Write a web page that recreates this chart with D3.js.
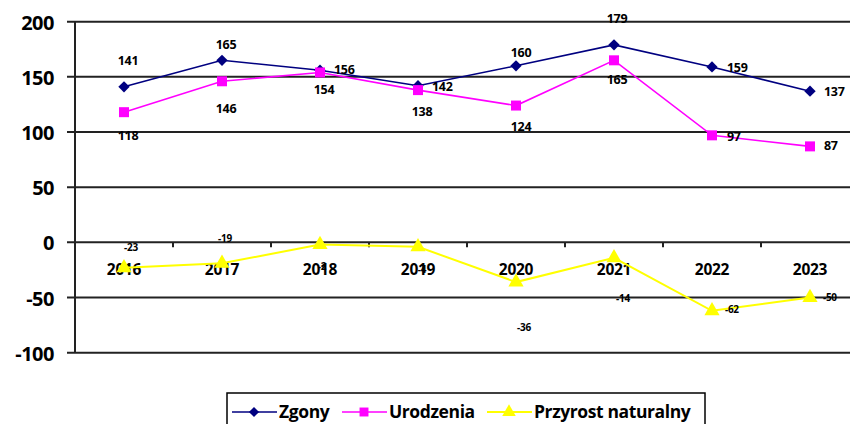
<!DOCTYPE html>
<html>
<head>
<meta charset="utf-8">
<script src="https://cdn.jsdelivr.net/npm/d3@7"></script>
<style>
  body { margin: 0; background: #fff; }
  svg { display: block; font-family: "Open Sans", Lato, sans-serif; font-weight: bold; }
</style>
</head>
<body>
<svg id="chart" width="850" height="424"></svg>
<script>
var years = ['2016', '2017', '2018', '2019', '2020', '2021', '2022', '2023'];
var zgony = [141, 165, 156, 142, 160, 179, 159, 137];
var urodzenia = [118, 146, 154, 138, 124, 165, 97, 87];
var przyrost = [-23, -19, -2, -4, -36, -14, -62, -50];
var yTicks = [-100, -50, 0, 50, 100, 150, 200];

// where each data label sits relative to its point (dx, dy of the text baseline)
var zgonyLabelPos = [[4, -22], [4, -11], [14, 4], [14, 5], [5, -9], [3, -22], [15, 5], [14, 5]];
var urodzeniaLabelPos = [[4, 28], [4, 32], [4, 22], [4, 26], [5, 25], [3, 24], [15, 6], [14, 4]];
var przyrostLabelPos = [[7, -17], [3, -21], [2, 25], [4, 26], [8, 49], [9, 44], [13, 2], [13, 3]];

var svg = d3.select('#chart');

var x = d3.scaleBand().domain(years).range([75, 859]);
var y = d3.scaleLinear().domain([-100, 200]).range([352.7, 21.7]);
var cx = function(d, i) { return x(years[i]) + x.bandwidth() / 2; };

// gridlines
svg.append('g').selectAll('line')
  .data(yTicks)
  .enter().append('line')
  .attr('x1', 67).attr('x2', 860)
  .attr('y1', function(d) { return y(d); })
  .attr('y2', function(d) { return y(d); })
  .attr('stroke', '#222').attr('stroke-width', 2);

// y axis line
svg.append('line')
  .attr('x1', 75).attr('x2', 75)
  .attr('y1', y(200)).attr('y2', y(-100))
  .attr('stroke', '#222').attr('stroke-width', 2);

// y tick labels
svg.append('g').selectAll('text')
  .data(yTicks)
  .enter().append('text')
  .attr('x', 54)
  .attr('y', function(d) { return y(d) + 8; })
  .attr('text-anchor', 'end')
  .attr('font-size', 20)
  .attr('letter-spacing', -0.5)
  .attr('fill', '#000')
  .text(function(d) { return d; });

// category ticks on the zero line
svg.append('g').selectAll('line')
  .data(years.slice(1))
  .enter().append('line')
  .attr('x1', function(d) { return x(d); })
  .attr('x2', function(d) { return x(d); })
  .attr('y1', y(0)).attr('y2', y(0) + 5)
  .attr('stroke', '#222').attr('stroke-width', 2);

// category labels
svg.append('g').selectAll('text')
  .data(years)
  .enter().append('text')
  .attr('x', function(d) { return x(d) + x.bandwidth() / 2; })
  .attr('y', 275)
  .attr('text-anchor', 'middle')
  .attr('font-size', 15.5)
  .attr('letter-spacing', -0.3)
  .attr('fill', '#000')
  .text(function(d) { return d; });

// diamond = square turned 45 degrees
var diamond = {
  draw: function(ctx, size) {
    var r = Math.sqrt(size) / 2 * Math.SQRT2;
    ctx.moveTo(0, -r); ctx.lineTo(r, 0); ctx.lineTo(0, r); ctx.lineTo(-r, 0); ctx.closePath();
  }
};

var series = [
  { name: 'Zgony', values: zgony, color: '#000080', width: 1.6, symbol: diamond, size: 64, labels: zgonyLabelPos, fontSize: 12.5 },
  { name: 'Urodzenia', values: urodzenia, color: '#FF00FF', width: 1.6, symbol: d3.symbolSquare, size: 100, labels: urodzeniaLabelPos, fontSize: 12.5 },
  { name: 'Przyrost naturalny', values: przyrost, color: '#FFFF00', width: 2, symbol: d3.symbolTriangle, size: 100, labels: przyrostLabelPos, fontSize: 10 }
];

var line = d3.line()
  .x(function(d, i) { return cx(d, i); })
  .y(function(d) { return y(d); });

series.forEach(function(s) {
  var g = svg.append('g');

  g.append('path')
    .datum(s.values)
    .attr('d', line)
    .attr('fill', 'none')
    .attr('stroke', s.color)
    .attr('stroke-width', s.width);

  g.selectAll('path.mark')
    .data(s.values)
    .enter().append('path')
    .attr('class', 'mark')
    .attr('d', d3.symbol().type(s.symbol).size(s.size))
    .attr('transform', function(d, i) { return 'translate(' + cx(d, i) + ',' + y(d) + ')'; })
    .attr('fill', s.color);

  g.selectAll('text')
    .data(s.values)
    .enter().append('text')
    .attr('x', function(d, i) { return cx(d, i) + s.labels[i][0]; })
    .attr('y', function(d, i) { return y(d) + s.labels[i][1]; })
    .attr('text-anchor', function(d, i) { return s.labels[i][0] > 10 ? 'start' : 'middle'; })
    .attr('font-size', s.fontSize)
    .attr('letter-spacing', -0.3)
    .attr('fill', '#000')
    .text(function(d) { return d; });
});

// legend
var legend = svg.append('g');
legend.append('rect')
  .attr('x', 227).attr('y', 393)
  .attr('width', 478).attr('height', 40)
  .attr('fill', '#fff').attr('stroke', '#000').attr('stroke-width', 1.5);

var legendX = [232, 342, 487];
series.forEach(function(s, i) {
  var lx = legendX[i];
  legend.append('line')
    .attr('x1', lx).attr('x2', lx + 45)
    .attr('y1', 412).attr('y2', 412)
    .attr('stroke', s.color).attr('stroke-width', s.width);
  legend.append('path')
    .attr('d', d3.symbol().type(s.symbol).size(s.size * 0.8))
    .attr('transform', 'translate(' + (lx + 22) + ',412)')
    .attr('fill', s.color);
  legend.append('text')
    .attr('x', lx + 47)
    .attr('y', 418)
    .attr('font-size', 17.5)
    .attr('letter-spacing', -0.4)
    .attr('fill', '#000')
    .text(s.name);
});
</script>
</body>
</html>
